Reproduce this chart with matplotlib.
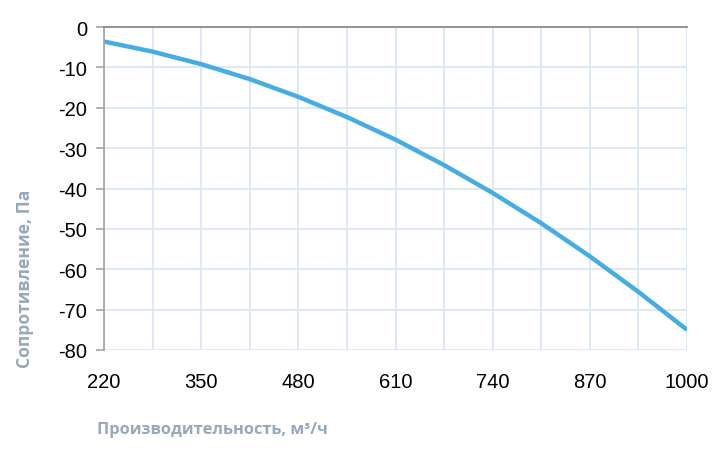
import matplotlib
matplotlib.use("Agg")
import matplotlib.pyplot as plt

plt.rcParams["axes.unicode_minus"] = False

# расход, м3/ч и сопротивление, Па
rashod = [220, 285, 350, 415, 480, 545, 610, 675, 740, 805, 870, 935, 1000]
soprot = [-3.6, -6.1, -9.2, -12.9, -17.3, -22.3, -27.9, -34.2, -41.1, -48.6, -56.8, -65.6, -75.0]
x_ticks = [220, 350, 480, 610, 740, 870, 1000]
y_ticks = [0, -10, -20, -30, -40, -50, -60, -70, -80]

fig = plt.figure(figsize=(7.27, 4.56), dpi=100)
ax = fig.add_axes([104/727, 1 - 351/456, (687 - 104)/727, (351 - 28)/456])

ax.plot(rashod, soprot, color="#45ADE2", lw=3.2, solid_capstyle="butt",
        solid_joinstyle="round")

ax.set_xlim(220, 1000)
ax.set_ylim(-80, 0)
ax.set_xticks(x_ticks)
ax.set_xticks(range(220, 1001, 65), minor=True)
ax.set_yticks(y_ticks)

ax.grid(True, which="both", axis="x", color="#DCE6F5", lw=1.3)
ax.grid(True, which="major", axis="y", color="#DCE6F5", lw=1.3)
ax.set_axisbelow(True)

for s in ["right", "bottom"]:
    ax.spines[s].set_visible(False)
ax.spines["left"].set_color("#A6A6A6")
ax.spines["left"].set_linewidth(1.3)
ax.spines["top"].set_color("#8A8A8A")
ax.spines["top"].set_linewidth(1.3)

ax.tick_params(axis="y", which="major", length=6, color="#A6A6A6", width=1.2,
               labelsize=14.5, pad=6)
ax.tick_params(axis="x", which="both", length=0, labelsize=14.5, pad=16)
for lab in ax.get_xticklabels() + ax.get_yticklabels():
    lab.set_fontfamily("Liberation Sans")

fig.text(97/727, 1 - 430/456, "Производительность, м³/ч", color="#97A8BA",
         fontsize=11.8, fontweight="bold", fontfamily="Open Sans", va="center", ha="left")
fig.text(25/727, 1 - 279/456, "Сопротивление, Па", color="#97A8BA",
         fontsize=12.6, fontweight="bold", fontfamily="Open Sans", va="center", ha="center",
         rotation=90)

fig.savefig("out.png", dpi=100)
